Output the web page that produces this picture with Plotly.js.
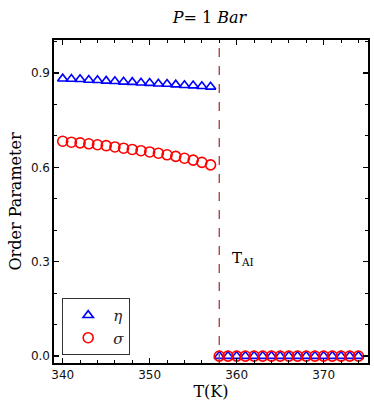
<!DOCTYPE html>
<html>
<head>
<meta charset="utf-8">
<script src="https://cdn.plot.ly/plotly-3.0.1.min.js"></script>
<style>
  html, body { margin: 0; padding: 0; background: #fff; }
  #plot { width: 374px; height: 409px; }
</style>
</head>
<body>
<div id="plot"></div>
<script>
// ordered phase (below T_AI)
const tLow = [340, 341, 342, 343, 344, 345, 346, 347, 348, 349, 350, 351, 352, 353, 354, 355, 356, 357];
const etaLow = [0.882, 0.881, 0.880, 0.878, 0.877, 0.875, 0.874, 0.872, 0.871, 0.869, 0.868, 0.866, 0.865, 0.863, 0.861, 0.860, 0.858, 0.856];
const sigmaLow = [0.683, 0.680, 0.678, 0.675, 0.672, 0.669, 0.665, 0.661, 0.657, 0.653, 0.649, 0.645, 0.640, 0.635, 0.629, 0.623, 0.616, 0.608];
// disordered phase
const tHigh = [358, 359, 360, 361, 362, 363, 364, 365, 366, 367, 368, 369, 370, 371, 372, 373, 374];
const etaHigh = tHigh.map(() => 0);
const sigmaHigh = tHigh.map(() => 0);
const tAI = 358;

const serif = 'DejaVu Serif, serif';
const sans = 'DejaVu Sans, sans-serif';

const traces = [
  {
    x: tLow.concat(tHigh), y: etaLow.concat(etaHigh),
    mode: 'markers', name: '<i>η</i>',
    marker: {symbol: 'triangle-up-open', size: 9, color: 'blue', line: {width: 1.6, color: 'blue'}}
  },
  {
    x: tLow.concat(tHigh), y: sigmaLow.concat(sigmaHigh),
    mode: 'markers', name: '<i>σ</i>',
    marker: {symbol: 'circle-open', size: 10, color: 'red', line: {width: 1.6, color: 'red'}}
  }
];

const axisCommon = {
  showline: true, linecolor: 'black', linewidth: 1.6, mirror: 'ticks',
  ticks: 'inside', ticklen: 5, tickwidth: 1.3, tickcolor: 'black',
  showgrid: false, zeroline: false,
  tickfont: {family: sans, size: 12, color: '#111'}
};

const layout = {
  width: 374, height: 409,
  margin: {l: 54, r: 6, t: 40, b: 46},
  paper_bgcolor: 'white', plot_bgcolor: 'white',
  title: {text: '<i>P</i>= 1 <i>Bar</i>', font: {family: serif, size: 16, color: 'black'}, x: 0.56, xanchor: 'center', y: 0.97},
  xaxis: Object.assign({}, axisCommon, {
    range: [339, 375.1], tickvals: [340, 350, 360, 370],
    minor: {dtick: 2, tick0: 340, ticks: 'inside', ticklen: 3, tickwidth: 1, tickcolor: 'black'},
    title: {text: 'T(K)', font: {family: serif, size: 16, color: 'black'}, standoff: 3}
  }),
  yaxis: Object.assign({}, axisCommon, {
    range: [-0.022, 1.005], tickvals: [0, 0.3, 0.6, 0.9], ticktext: ['0.0', '0.3', '0.6', '0.9'],
    minor: {dtick: 0.1, tick0: 0, ticks: 'inside', ticklen: 3, tickwidth: 1, tickcolor: 'black'},
    title: {text: 'Order Parameter', font: {family: serif, size: 16, color: 'black'}, standoff: 5}
  }),
  legend: {
    x: 0.026, y: 0.025, xanchor: 'left', yanchor: 'bottom',
    bordercolor: '#333', borderwidth: 1, bgcolor: 'white',
    font: {family: serif, size: 15, color: '#222'},
    itemwidth: 40, tracegroupgap: 4
  },
  shapes: [{
    type: 'line', xref: 'x', yref: 'paper', x0: tAI, x1: tAI, y0: 0, y1: 1,
    line: {color: '#a83a3a', width: 1.3, dash: 'dash'}
  }],
  annotations: [{
    x: tAI + 1.2, y: 0.31, xref: 'x', yref: 'y', xanchor: 'left', yanchor: 'middle',
    text: 'T<sub>AI</sub>', showarrow: false,
    font: {family: serif, size: 15, color: 'black'}
  }],
  showlegend: true
};

Plotly.newPlot('plot', traces, layout, {displayModeBar: false, staticPlot: true});
</script>
</body>
</html>
